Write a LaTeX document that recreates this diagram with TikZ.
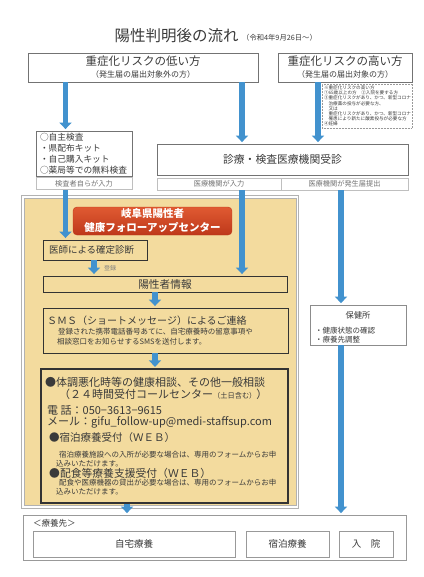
\documentclass[tikz,border=0pt]{standalone}
\usepackage{fontspec}
\setmainfont{Noto Sans CJK JP}
\usetikzlibrary{arrows.meta}
\definecolor{flowblue}{RGB}{66,146,206}
\definecolor{centreyellow}{RGB}{243,219,158}
\definecolor{bannertop}{RGB}{224,90,50}
\definecolor{bannerbot}{RGB}{190,56,26}
\definecolor{inkgray}{RGB}{58,58,58}

\begin{document}
\begin{tikzpicture}[
    x=1pt, y=-1pt,
    every node/.style={text=inkgray, inner sep=0pt},
    flow/.style={draw=flowblue, line width=5.5pt,
        -{Triangle[width=12pt,length=6.5pt]}, shorten >=1.5pt},
    outbox/.style={draw=black!55, line width=0.8pt, fill=white, align=center},
    tagbox/.style={draw=black!25, line width=0.6pt, fill=white, text=black!55,
        minimum height=12pt, font=\fontsize{7.2}{8}\selectfont},
    inbox/.style={draw=black!80, line width=0.9pt},
    destbox/.style={draw=black!40, line width=0.8pt, fill=white,
        minimum height=26pt, font=\fontsize{9.5}{11}\selectfont}
]
    \fill[white] (0,0) rectangle (423,577);
    \useasboundingbox (0,0) rectangle (423,577);

    \node[font=\fontsize{15.5}{17}\selectfont] (title) at (176.5,36) {陽性判明後の流れ};
    \node[anchor=west, font=\fontsize{7.3}{8}\selectfont] (date) at (242,38) {（令和4年9月26日～）};

    \node[outbox, minimum width=230pt, minimum height=29pt,
        font=\fontsize{11.5}{12}\selectfont] (low) at (143,67.5)
        {重症化リスクの低い方\\{\fontsize{8}{9}\selectfont （発生届の届出対象外の方）}};
    \node[outbox, minimum width=134pt, minimum height=29pt,
        font=\fontsize{11.5}{12}\selectfont] (high) at (345,67.5)
        {重症化リスクの高い方\\{\fontsize{8}{9}\selectfont （発生届の届出対象の方）}};
    \node[draw=black!40, densely dotted, line width=0.5pt, fill=white,
        minimum width=90pt, minimum height=44pt, text width=86pt, align=left,
        font=\fontsize{4.6}{5.2}\selectfont] (note) at (367,106)
        {※重症化リスクの高い方\\①65歳以上の方　②入院を要する方\\③重症化リスクがあり、かつ、新型コロナ\\
        　治療薬の投与が必要な方、\\　又は\\　重症化リスクがあり、かつ、新型コロナ\\
        　罹患により新たに酸素投与が必要な方\\④妊婦};

    \node[outbox, align=left, minimum width=96pt, minimum height=45pt, text width=88pt,
        font=\fontsize{8.7}{11}\selectfont] (self) at (84,153.5)
        {○自主検査\\・県配布キット\\・自己購入キット\\○薬局等での無料検査};
    \node[tagbox, minimum width=96pt] (selfin) at (84,183.5) {検査者自らが入力};

    \node[outbox, minimum width=251pt, minimum height=31pt,
        font=\fontsize{10.8}{12}\selectfont] (clinic) at (282.5,159.5) {診療・検査医療機関受診};
    \node[tagbox, minimum width=124pt] (clinicin) at (219,184) {医療機関が入力};
    \node[tagbox, minimum width=127pt] (clinicout) at (344.5,184) {医療機関が発生届提出};

    \draw[black!30, line width=0.8pt] (21,195) rectangle (298.5,508);
    \draw[black!30, line width=0.6pt, fill=centreyellow] (24,198) rectangle (296,505);

    \node[rounded corners=4pt, top color=bannertop, bottom color=bannerbot,
        draw=bannerbot, minimum width=159pt, minimum height=28pt, text=white,
        align=center, font=\fontsize{10.5}{14}\selectfont\bfseries] (banner) at (152.5,221)
        {岐阜県陽性者\\健康フォローアップセンター};

    \node[inbox, minimum width=104pt, minimum height=20pt, text width=92pt, align=left,
        font=\fontsize{9.5}{11}\selectfont] (diag) at (95,250) {医師による確定診断};
    \node[font=\fontsize{6}{7}\selectfont, text=black!50] (regtag) at (110,268) {登録};
    \node[inbox, minimum width=244pt, minimum height=16pt,
        font=\fontsize{10.7}{12}\selectfont] (positive) at (165,284) {陽性者情報};

    \node[inbox, minimum width=245pt, minimum height=45pt] (sms) at (165.5,330.5) {};
    \node[anchor=west, font=\fontsize{10}{12}\selectfont] (smshead) at (47,321)
        {ＳＭＳ（ショートメッセージ）によるご連絡};
    \node[anchor=west, align=left, font=\fontsize{7.5}{10}\selectfont] (smsnote) at (57,337)
        {\hspace*{1pt}登録された携帯電話番号あてに、自宅療養時の留意事項や\\相談窓口をお知らせするSMSを送付します。};

    \node[inbox, line width=1.2pt, minimum width=247pt, minimum height=134pt] (consult) at (164.5,436) {};
    \node[anchor=west, font=\fontsize{11}{12}\selectfont] (callhead) at (45,382)
        {●体調悪化時等の健康相談、その他一般相談};
    \node[anchor=west, font=\fontsize{11}{12}\selectfont] (callcentre) at (59,394)
        {（２４時間受付コールセンター{\fontsize{7.2}{8}\selectfont（土日含む）}）};
    \node[anchor=west, font=\fontsize{11}{12}\selectfont] (calltel) at (47,410)
        {電 話：050−3613−9615};
    \node[anchor=west, font=\fontsize{11}{12}\selectfont] (callmail) at (47,422)
        {メール：gifu\_follow-up@medi-staffsup.com};
    \node[anchor=west, font=\fontsize{10.5}{12}\selectfont] (hotelhead) at (49,438)
        {●宿泊療養受付（ＷＥＢ）};
    \node[anchor=west, align=left, font=\fontsize{7.5}{8.5}\selectfont] (hotelnote) at (56,459)
        {\hspace*{3pt}宿泊療養施設への入所が必要な場合は、専用のフォームからお申\\込みいただけます。};
    \node[anchor=west, font=\fontsize{10.8}{12}\selectfont] (mealhead) at (49,473)
        {●配食等療養支援受付（ＷＥＢ）};
    \node[anchor=west, align=left, font=\fontsize{7.5}{9}\selectfont] (mealnote) at (56,487.5)
        {\hspace*{3pt}配食や医療機器の貸出が必要な場合は、専用のフォームからお申\\込みいただけます。};

    \node[draw=black!45, line width=0.7pt, fill=white, minimum width=96pt,
        minimum height=40pt] (hc) at (358,325) {};
    \node[font=\fontsize{8.3}{10}\selectfont] (hctitle) at (358,315) {保健所};
    \node[anchor=west, align=left, font=\fontsize{7.5}{9}\selectfont] (hclist) at (315,335.5)
        {・健康状態の確認\\・療養先調整};

    \node[draw=black!40, line width=0.8pt, fill=white, minimum width=383pt,
        minimum height=45pt] (dest) at (214.5,537.5) {};
    \node[anchor=west, font=\fontsize{8.5}{10}\selectfont] (destlabel) at (33,523.5) {＜療養先＞};
    \node[destbox, minimum width=202pt] (home) at (134,544) {自宅療養};
    \node[destbox, minimum width=83pt] (hotel) at (287.5,544) {宿泊療養};
    \node[destbox, minimum width=54pt] (hosp) at (366,544) {入　院};

    \coordinate (colA) at (65.5,0);
    \coordinate (colB) at (242,0);
    \coordinate (colC) at (318,0);
    \coordinate (colD) at (94,0);
    \coordinate (colE) at (155,0);
    \coordinate (colF) at (341,0);
    \coordinate (colG) at (127,0);

    \draw[flow] (low.south -| colA) -- (self.north -| colA);
    \draw[flow] (low.south -| colB) -- (clinic.north -| colB);
    \draw[flow] (high.south -| colC) -- (clinic.north -| colC);
    \draw[flow] (selfin.south -| colA) -- (diag.north -| colA);
    \draw[flow] (clinicin.south -| colB) -- (positive.north -| colB);
    \draw[flow] (clinicout.south -| colF) -- (hc.north -| colF);
    \draw[flow] (diag.south -| colD) -- (positive.north -| colD);
    \draw[flow] (positive.south -| colE) -- (sms.north -| colE);
    \draw[flow] (sms.south -| colE) -- (consult.north -| colE);
    \draw[flow] (consult.south -| colG) -- (dest.north -| colG);
    \draw[flow] (hc.south -| colF) -- (dest.north -| colF);
\end{tikzpicture}
\end{document}
